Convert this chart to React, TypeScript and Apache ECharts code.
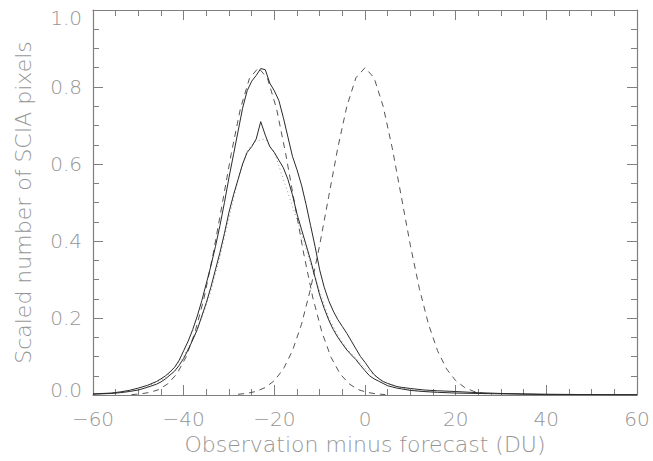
import React, { useEffect, useRef } from "react";
import * as echarts from "echarts";

// Observed distributions (solid curves) on a shared x grid (DU)
const xObs = [-60, -56, -54, -52, -50, -48, -46, -45, -44, -43, -42, -41, -40, -39, -38, -37, -36, -35, -34, -33, -32, -31, -30, -29, -28, -27, -26, -25, -24, -23, -22, -21, -20, -19, -18, -17, -16, -15, -14, -13, -12, -11, -10, -9, -8, -7, -6, -5, -4, -3, -2, -1, 0, 1, 2, 3, 4, 5, 6, 7, 8, 10, 13, 16, 20, 25, 30, 40, 50, 60];
const outerObs = [0.003, 0.005, 0.008, 0.012, 0.018, 0.025, 0.035, 0.042, 0.05, 0.06, 0.072, 0.09, 0.115, 0.14, 0.17, 0.205, 0.245, 0.29, 0.335, 0.385, 0.44, 0.5, 0.565, 0.625, 0.685, 0.745, 0.79, 0.815, 0.83, 0.848, 0.845, 0.81, 0.79, 0.765, 0.72, 0.67, 0.62, 0.585, 0.545, 0.495, 0.44, 0.385, 0.325, 0.28, 0.245, 0.218, 0.196, 0.178, 0.16, 0.14, 0.12, 0.1, 0.085, 0.068, 0.053, 0.043, 0.035, 0.03, 0.026, 0.022, 0.02, 0.017, 0.013, 0.011, 0.009, 0.006, 0.004, 0.002, 0.001, 0.001];
const innerObs = [0.002, 0.004, 0.006, 0.009, 0.013, 0.02, 0.028, 0.034, 0.042, 0.052, 0.062, 0.077, 0.095, 0.118, 0.143, 0.17, 0.205, 0.24, 0.28, 0.325, 0.37, 0.42, 0.475, 0.52, 0.56, 0.6, 0.63, 0.645, 0.665, 0.71, 0.675, 0.645, 0.63, 0.61, 0.59, 0.56, 0.52, 0.47, 0.43, 0.39, 0.35, 0.305, 0.26, 0.225, 0.195, 0.17, 0.15, 0.133, 0.117, 0.104, 0.092, 0.077, 0.063, 0.05, 0.042, 0.036, 0.03, 0.024, 0.021, 0.018, 0.016, 0.012, 0.009, 0.007, 0.005, 0.004, 0.003, 0.001, 0.001, 0.0];

// Dotted curve
const xDot = [-48, -44, -40, -38, -36, -34, -32, -30, -28, -26, -24, -22, -20, -18, -16, -14, -12, -10, -8, -6, -4, -2, 0, 4, 8, 12, 16];
const dotVals = [0.022, 0.045, 0.1, 0.145, 0.2, 0.27, 0.36, 0.46, 0.56, 0.635, 0.66, 0.665, 0.63, 0.56, 0.49, 0.42, 0.34, 0.27, 0.2, 0.155, 0.12, 0.095, 0.07, 0.035, 0.018, 0.01, 0.007];

// Dashed curve centred near -23.5
const xDashA = [-51.5, -49.5, -47.5, -45.5, -43.5, -41.5, -39.5, -37.5, -35.5, -33.5, -31.5, -29.5, -27.5, -25.5, -23.5, -21.5, -19.5, -17.5, -15.5, -13.5, -11.5, -9.5, -7.5, -5.5, -3.5, -1.5, 0.5, 2.5, 4.5];
const dashA = [0.001, 0.003, 0.0066, 0.014, 0.029, 0.055, 0.098, 0.163, 0.252, 0.366, 0.496, 0.627, 0.743, 0.822, 0.85, 0.822, 0.743, 0.627, 0.496, 0.366, 0.252, 0.163, 0.098, 0.055, 0.029, 0.014, 0.0066, 0.003, 0.001];

// Dashed curve centred at 0
const xDashB = [-28, -26, -24, -22, -20, -18, -16, -14, -12, -10, -8, -6, -4, -2, 0, 2, 4, 6, 8, 10, 12, 14, 16, 18, 20, 22, 24, 26, 28];
const dashB = [0.0019, 0.0043, 0.0094, 0.0194, 0.0373, 0.0676, 0.115, 0.184, 0.276, 0.389, 0.516, 0.642, 0.75, 0.824, 0.85, 0.824, 0.75, 0.642, 0.516, 0.389, 0.276, 0.184, 0.115, 0.0676, 0.0373, 0.0194, 0.0094, 0.0043, 0.0019];

// Y tick labels at the ends of the axis, nudged inside the frame as in the original
const yEndLabels = ["1.0", "0.0"];

const xTitle = "Observation minus forecast (DU)";
const yTitle = "Scaled number of SCIA pixels";

const zip = (xs: number[], ys: number[]) => xs.map((x, i) => [x, ys[i]]);

const TEXT = "#959595";
const AXIS = "#7f7f7f";
const FONT = "DejaVu Sans";
const WEIGHT = 300;

export default function App() {
  const ref = useRef<HTMLDivElement>(null);
  useEffect(() => {
    if (!ref.current) return;
    const chart = echarts.init(ref.current, undefined, { renderer: "svg" });
    const axisCommon = {
      axisLine: { show: true, onZero: false, lineStyle: { color: AXIS, width: 1.2 } },
      splitLine: { show: false },
    };
    const tickCommon = {
      axisTick: { show: true, inside: true, length: 10, lineStyle: { color: AXIS } },
      minorTick: { show: true, splitNumber: 4, length: 6, lineStyle: { color: AXIS } },
    };
    const xBase = { type: "value" as const, min: -60, max: 60, interval: 20, ...axisCommon, ...tickCommon };
    const yBase = { type: "value" as const, min: 0, max: 1, interval: 0.2, ...axisCommon, ...tickCommon };
    const lineSeries = (data: number[][], color: string, type: any, width = 1, z = 2) => ({
      type: "line",
      data,
      showSymbol: false,
      symbol: "none",
      smooth: false,
      lineStyle: { color, width, type },
      z,
      silent: true,
    });
    chart.setOption({
      animation: false,
      backgroundColor: "#ffffff",
      grid: { left: 93, right: 16, top: 10, bottom: 66 },
      xAxis: [
        {
          ...xBase,
          position: "bottom",
          axisLabel: {
            color: TEXT,
            fontFamily: FONT,
            fontSize: 20,
            fontWeight: WEIGHT,
            margin: 14,
            formatter: (v: number) => (v < 0 ? "\u2212" + Math.abs(v) : String(v)),
          },
          name: xTitle,
          nameLocation: "middle",
          nameGap: 31,
          nameTextStyle: { color: TEXT, fontFamily: FONT, fontSize: 22, fontWeight: WEIGHT },
        },
        { ...xBase, position: "top", axisLabel: { show: false } },
      ],
      yAxis: [
        {
          ...yBase,
          position: "left",
          axisLabel: {
            color: TEXT,
            fontFamily: FONT,
            fontSize: 20,
            fontWeight: WEIGHT,
            margin: 11,
            showMinLabel: false,
            showMaxLabel: false,
            formatter: (v: number) => v.toFixed(1),
          },
          name: yTitle,
          nameLocation: "middle",
          nameGap: 59,
          nameTextStyle: { color: TEXT, fontFamily: FONT, fontSize: 22, fontWeight: WEIGHT },
        },
        { ...yBase, position: "right", axisLabel: { show: false } },
      ],
      graphic: [
        {
          type: "text",
          x: 82,
          y: 18,
          style: { text: yEndLabels[0], fill: TEXT, font: `${WEIGHT} 20px "${FONT}"`, align: "right", verticalAlign: "middle" },
        },
        {
          type: "text",
          x: 82,
          y: 390,
          style: { text: yEndLabels[1], fill: TEXT, font: `${WEIGHT} 20px "${FONT}"`, align: "right", verticalAlign: "middle" },
        },
      ],
      series: [
        lineSeries(zip(xDashA, dashA), "#555555", [6, 5], 1, 2),
        lineSeries(zip(xDashB, dashB), "#555555", [6, 5], 1, 2),
        lineSeries(zip(xDot, dotVals), "#9a9a9a", [1, 3], 1, 2),
        lineSeries(zip(xObs, innerObs), "#2a2a2a", "solid", 1, 3),
        lineSeries(zip(xObs, outerObs), "#2a2a2a", "solid", 1, 3),
      ],
    });
    return () => chart.dispose();
  }, []);
  return <div ref={ref} style={{ width: 653, height: 461, position: "absolute", left: 0, top: 0 }} />;
}
